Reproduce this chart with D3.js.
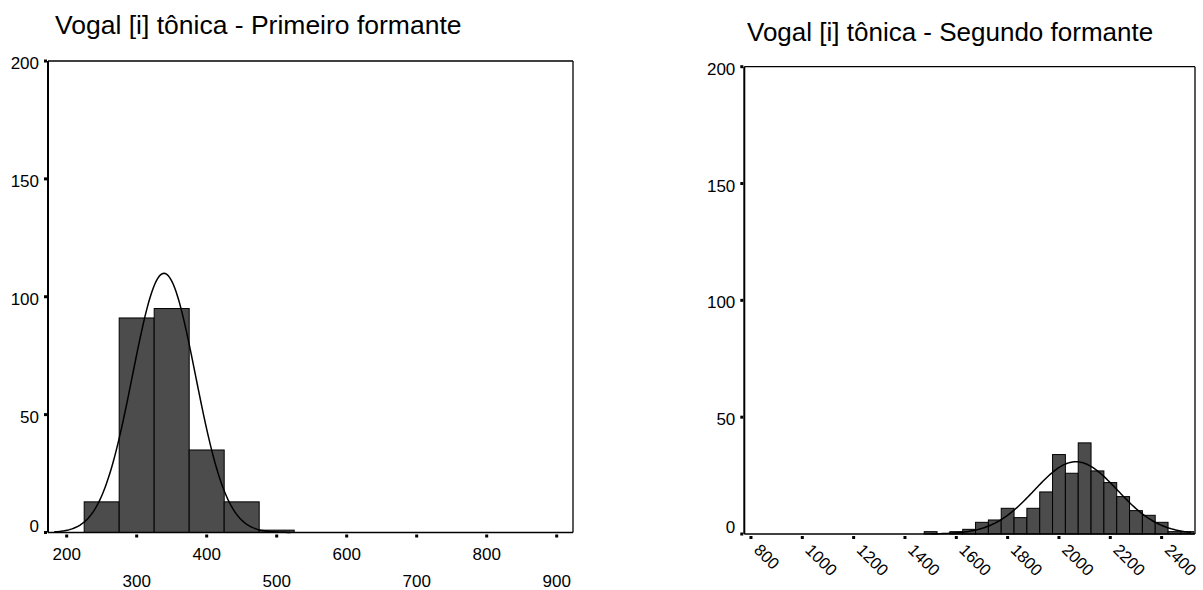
<!DOCTYPE html>
<html>
<head>
<meta charset="utf-8">
<script src="https://cdn.jsdelivr.net/npm/d3@7"></script>
<style>
  html, body { margin: 0; padding: 0; background: #ffffff; }
  svg { display: block; }
  text { font-family: "Liberation Sans", Arial, Helvetica, sans-serif; fill: #000; }
</style>
</head>
<body>
<svg id="chart" width="1203" height="590"></svg>
<script>
// ---- First formant (F1) histogram ----
const f1Title = "Vogal [i] tônica - Primeiro formante";
const f1BinCenters = [250, 300, 350, 400, 450, 500];
const f1Counts = [13, 91, 95, 35, 13, 1];
const f1Mean = 339;
const f1Sd = 45;
const f1CurveRange = [182, 520];
const f1XTicks = [200, 300, 400, 500, 600, 700, 800, 900];

// ---- Second formant (F2) histogram ----
const f2Title = "Vogal [i] tônica - Segundo formante";
const f2BinCenters = [1500, 1600, 1650, 1700, 1750, 1800, 1850, 1900, 1950, 2000,
                      2050, 2100, 2150, 2200, 2250, 2300, 2350, 2400, 2450, 2500];
const f2Counts = [1, 1, 2, 5, 6, 11, 7, 11, 18, 34,
                  26, 39, 27, 22, 16, 10, 8, 5, 1, 1];
const f2Mean = 2066;
const f2Sd = 162;
const f2CurveRange = [1500, 2515];
const f2XTicks = [800, 1000, 1200, 1400, 1600, 1800, 2000, 2200, 2400];

// shared
const binWidth = 50;
const yTicks = [0, 50, 100, 150, 200];
const yDomain = [0, 200];

const svg = d3.select("#chart");
const barFill = "#4c4c4c";

function drawHistogram(cfg) {
  const g = svg.append("g");
  const x = d3.scaleLinear().domain(cfg.xDomain).range([cfg.left, cfg.right]);
  const y = d3.scaleLinear().domain(yDomain).range([cfg.bottom, cfg.top]);
  const n = d3.sum(cfg.counts);

  // title
  g.append("text")
    .attr("x", cfg.titleX)
    .attr("y", cfg.titleY)
    .attr("font-size", cfg.titleSize)
    .text(cfg.title);

  // bars
  const bins = cfg.centers.map((c, i) => ({ c, v: cfg.counts[i] }));
  g.selectAll("rect.bar")
    .data(bins)
    .join("rect")
    .attr("class", "bar")
    .attr("x", d => x(d.c - binWidth / 2))
    .attr("width", d => x(d.c + binWidth / 2) - x(d.c - binWidth / 2))
    .attr("y", d => y(d.v))
    .attr("height", d => y(0) - y(d.v))
    .attr("fill", barFill)
    .attr("stroke", "#000")
    .attr("stroke-width", 1);

  // fitted normal curve, scaled to counts per bin
  const pts = d3.range(cfg.curveRange[0], cfg.curveRange[1] + 0.001, (cfg.curveRange[1] - cfg.curveRange[0]) / 200)
    .map(v => {
      const z = (v - cfg.mean) / cfg.sd;
      const dens = n * binWidth / (cfg.sd * Math.sqrt(2 * Math.PI)) * Math.exp(-0.5 * z * z);
      return [v, dens];
    });
  g.append("path")
    .datum(pts)
    .attr("fill", "none")
    .attr("stroke", "#000")
    .attr("stroke-width", 1.5)
    .attr("d", d3.line().x(d => x(d[0])).y(d => y(d[1])));

  // frame (top and right thinner)
  g.append("line").attr("x1", cfg.left).attr("x2", cfg.right).attr("y1", cfg.top).attr("y2", cfg.top)
    .attr("stroke", "#000").attr("stroke-width", 1.3);
  g.append("line").attr("x1", cfg.right).attr("x2", cfg.right).attr("y1", cfg.top).attr("y2", cfg.bottom)
    .attr("stroke", "#000").attr("stroke-width", 1.3);
  g.append("line").attr("x1", cfg.left).attr("x2", cfg.right).attr("y1", cfg.bottom).attr("y2", cfg.bottom)
    .attr("stroke", "#000").attr("stroke-width", 1.5);
  g.append("line").attr("x1", cfg.left).attr("x2", cfg.left).attr("y1", cfg.top).attr("y2", cfg.bottom)
    .attr("stroke", "#000").attr("stroke-width", 2);

  // y ticks: small square marks and labels
  g.selectAll("rect.ytick")
    .data(yTicks)
    .join("rect")
    .attr("class", "ytick")
    .attr("x", cfg.left - 4)
    .attr("y", d => y(d) - 1.5)
    .attr("width", 3)
    .attr("height", 3)
    .attr("fill", "#000");
  g.selectAll("text.ylab")
    .data(yTicks)
    .join("text")
    .attr("class", "ylab")
    .attr("x", cfg.left - 9)
    .attr("y", d => y(d) + (d === 0 ? -1 : 8))
    .attr("text-anchor", "end")
    .attr("font-size", 17)
    .text(d => d);

  // x ticks
  g.selectAll("rect.xtick")
    .data(cfg.xTicks)
    .join("rect")
    .attr("class", "xtick")
    .attr("x", d => x(d) - 1.5)
    .attr("y", cfg.bottom + 2)
    .attr("width", 3)
    .attr("height", 3)
    .attr("fill", "#000");

  if (cfg.rotateLabels) {
    g.selectAll("text.xlab")
      .data(cfg.xTicks)
      .join("text")
      .attr("class", "xlab")
      .attr("transform", d => `translate(${x(d) + 2},${cfg.bottom + 17}) rotate(45)`)
      .attr("font-size", 16.5)
      .text(d => d);
  } else {
    g.selectAll("text.xlab")
      .data(cfg.xTicks)
      .join("text")
      .attr("class", "xlab")
      .attr("x", d => x(d))
      .attr("y", (d, i) => cfg.bottom + (i % 2 === 0 ? 27 : 54))
      .attr("text-anchor", "middle")
      .attr("font-size", 17)
      .text(d => d);
  }
}

drawHistogram({
  title: f1Title, titleX: 55, titleY: 34, titleSize: 26.5,
  centers: f1BinCenters, counts: f1Counts,
  mean: f1Mean, sd: f1Sd, curveRange: f1CurveRange,
  xTicks: f1XTicks, xDomain: [173.3, 923.3],
  left: 48, right: 573, top: 61, bottom: 532.5,
  rotateLabels: false
});

drawHistogram({
  title: f2Title, titleX: 747, titleY: 41, titleSize: 26,
  centers: f2BinCenters, counts: f2Counts,
  mean: f2Mean, sd: f2Sd, curveRange: f2CurveRange,
  xTicks: f2XTicks, xDomain: [774, 2530],
  left: 744.3, right: 1195, top: 66.7, bottom: 534,
  rotateLabels: true
});
</script>
</body>
</html>
